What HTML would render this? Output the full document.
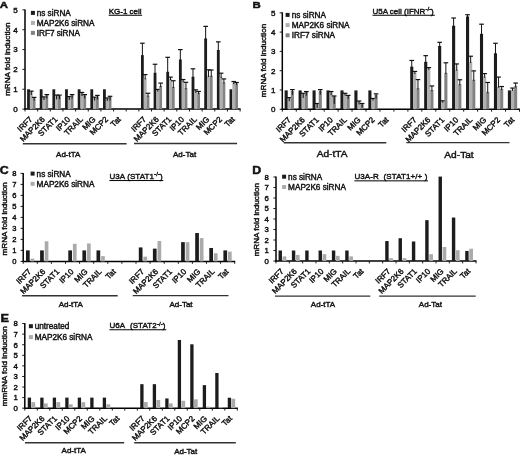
<!DOCTYPE html>
<html><head><meta charset="utf-8"><style>
html,body{margin:0;padding:0;background:#fff;}
body{width:520px;height:455px;overflow:hidden;}
svg{display:block;font-family:"Liberation Sans", sans-serif;fill:#111;filter:grayscale(1) blur(0.3px);}
text{stroke:#111;stroke-width:0.42px;paint-order:stroke;}
</style></head><body>
<svg width="520" height="455" viewBox="0 0 520 455">
<rect x="0" y="0" width="520" height="455" fill="#fff"/>
<g fill="#111">
<line x1="25" y1="9.4" x2="25" y2="109.8" stroke="#000" stroke-width="1.5"/>
<line x1="22.4" y1="109.1" x2="25" y2="109.1" stroke="#1a1a1a" stroke-width="1"/>
<text x="17.7" y="112" font-size="8" text-anchor="end" font-weight="normal" >0</text>
<line x1="22.4" y1="89.26" x2="25" y2="89.26" stroke="#1a1a1a" stroke-width="1"/>
<text x="17.7" y="92.16" font-size="8" text-anchor="end" font-weight="normal" >1</text>
<line x1="22.4" y1="69.42" x2="25" y2="69.42" stroke="#1a1a1a" stroke-width="1"/>
<text x="17.7" y="72.32" font-size="8" text-anchor="end" font-weight="normal" >2</text>
<line x1="22.4" y1="49.58" x2="25" y2="49.58" stroke="#1a1a1a" stroke-width="1"/>
<text x="17.7" y="52.48" font-size="8" text-anchor="end" font-weight="normal" >3</text>
<line x1="22.4" y1="29.74" x2="25" y2="29.74" stroke="#1a1a1a" stroke-width="1"/>
<text x="17.7" y="32.64" font-size="8" text-anchor="end" font-weight="normal" >4</text>
<line x1="22.4" y1="9.9" x2="25" y2="9.9" stroke="#1a1a1a" stroke-width="1"/>
<text x="17.7" y="12.8" font-size="8" text-anchor="end" font-weight="normal" >5</text>
<line x1="24.3" y1="109.1" x2="240.6" y2="109.1" stroke="#000" stroke-width="1.5"/>
<line x1="25" y1="109.1" x2="25" y2="111.5" stroke="#1a1a1a" stroke-width="1"/>
<line x1="37.65" y1="109.1" x2="37.65" y2="111.5" stroke="#1a1a1a" stroke-width="1"/>
<line x1="50.31" y1="109.1" x2="50.31" y2="111.5" stroke="#1a1a1a" stroke-width="1"/>
<line x1="62.96" y1="109.1" x2="62.96" y2="111.5" stroke="#1a1a1a" stroke-width="1"/>
<line x1="75.61" y1="109.1" x2="75.61" y2="111.5" stroke="#1a1a1a" stroke-width="1"/>
<line x1="88.26" y1="109.1" x2="88.26" y2="111.5" stroke="#1a1a1a" stroke-width="1"/>
<line x1="100.92" y1="109.1" x2="100.92" y2="111.5" stroke="#1a1a1a" stroke-width="1"/>
<line x1="113.57" y1="109.1" x2="113.57" y2="111.5" stroke="#1a1a1a" stroke-width="1"/>
<line x1="126.22" y1="109.1" x2="126.22" y2="111.5" stroke="#1a1a1a" stroke-width="1"/>
<line x1="138.88" y1="109.1" x2="138.88" y2="111.5" stroke="#1a1a1a" stroke-width="1"/>
<line x1="151.53" y1="109.1" x2="151.53" y2="111.5" stroke="#1a1a1a" stroke-width="1"/>
<line x1="164.18" y1="109.1" x2="164.18" y2="111.5" stroke="#1a1a1a" stroke-width="1"/>
<line x1="176.84" y1="109.1" x2="176.84" y2="111.5" stroke="#1a1a1a" stroke-width="1"/>
<line x1="189.49" y1="109.1" x2="189.49" y2="111.5" stroke="#1a1a1a" stroke-width="1"/>
<line x1="202.14" y1="109.1" x2="202.14" y2="111.5" stroke="#1a1a1a" stroke-width="1"/>
<line x1="214.79" y1="109.1" x2="214.79" y2="111.5" stroke="#1a1a1a" stroke-width="1"/>
<line x1="227.45" y1="109.1" x2="227.45" y2="111.5" stroke="#1a1a1a" stroke-width="1"/>
<line x1="240.1" y1="109.1" x2="240.1" y2="111.5" stroke="#1a1a1a" stroke-width="1"/>
<rect x="27.1" y="89.26" width="2.81" height="19.84" fill="#1c1c1c"/>
<rect x="29.91" y="91.64" width="2.81" height="17.46" fill="#b0b0b0"/>
<line x1="31.32" y1="91.14" x2="31.32" y2="95.01" stroke="#111" stroke-width="1.0"/>
<line x1="29.02" y1="91.14" x2="33.62" y2="91.14" stroke="#111" stroke-width="1.2"/>
<rect x="32.72" y="98.39" width="2.81" height="10.71" fill="#828282"/>
<line x1="34.12" y1="97.39" x2="34.12" y2="100.57" stroke="#111" stroke-width="1.0"/>
<line x1="31.82" y1="97.39" x2="36.42" y2="97.39" stroke="#111" stroke-width="1.2"/>
<rect x="39.75" y="89.26" width="2.81" height="19.84" fill="#1c1c1c"/>
<rect x="42.56" y="97.39" width="2.81" height="11.71" fill="#b0b0b0"/>
<line x1="43.97" y1="96.9" x2="43.97" y2="99.97" stroke="#111" stroke-width="1.0"/>
<line x1="41.67" y1="96.9" x2="46.27" y2="96.9" stroke="#111" stroke-width="1.2"/>
<rect x="45.37" y="95.41" width="2.81" height="13.69" fill="#828282"/>
<line x1="46.78" y1="94.62" x2="46.78" y2="98.39" stroke="#111" stroke-width="1.0"/>
<line x1="44.48" y1="94.62" x2="49.08" y2="94.62" stroke="#111" stroke-width="1.2"/>
<rect x="52.41" y="89.26" width="2.81" height="19.84" fill="#1c1c1c"/>
<rect x="55.22" y="96.01" width="2.81" height="13.09" fill="#b0b0b0"/>
<line x1="56.62" y1="95.11" x2="56.62" y2="99.38" stroke="#111" stroke-width="1.0"/>
<line x1="54.32" y1="95.11" x2="58.92" y2="95.11" stroke="#111" stroke-width="1.2"/>
<rect x="58.03" y="96.01" width="2.81" height="13.09" fill="#828282"/>
<line x1="59.43" y1="95.11" x2="59.43" y2="99.18" stroke="#111" stroke-width="1.0"/>
<line x1="57.13" y1="95.11" x2="61.73" y2="95.11" stroke="#111" stroke-width="1.2"/>
<rect x="65.06" y="89.26" width="2.81" height="19.84" fill="#1c1c1c"/>
<rect x="67.87" y="97.39" width="2.81" height="11.71" fill="#b0b0b0"/>
<line x1="69.27" y1="96.6" x2="69.27" y2="99.97" stroke="#111" stroke-width="1.0"/>
<line x1="66.97" y1="96.6" x2="71.57" y2="96.6" stroke="#111" stroke-width="1.2"/>
<rect x="70.68" y="95.41" width="2.81" height="13.69" fill="#828282"/>
<line x1="72.08" y1="94.62" x2="72.08" y2="98.39" stroke="#111" stroke-width="1.0"/>
<line x1="69.78" y1="94.62" x2="74.38" y2="94.62" stroke="#111" stroke-width="1.2"/>
<rect x="77.71" y="89.26" width="2.81" height="19.84" fill="#1c1c1c"/>
<rect x="80.52" y="93.03" width="2.81" height="16.07" fill="#b0b0b0"/>
<line x1="81.93" y1="92.43" x2="81.93" y2="96.01" stroke="#111" stroke-width="1.0"/>
<line x1="79.63" y1="92.43" x2="84.23" y2="92.43" stroke="#111" stroke-width="1.2"/>
<rect x="83.33" y="95.41" width="2.81" height="13.69" fill="#828282"/>
<line x1="84.74" y1="94.62" x2="84.74" y2="98.39" stroke="#111" stroke-width="1.0"/>
<line x1="82.44" y1="94.62" x2="87.04" y2="94.62" stroke="#111" stroke-width="1.2"/>
<rect x="90.36" y="89.26" width="2.81" height="19.84" fill="#1c1c1c"/>
<rect x="93.17" y="97.79" width="2.81" height="11.31" fill="#b0b0b0"/>
<line x1="94.58" y1="97.2" x2="94.58" y2="100.57" stroke="#111" stroke-width="1.0"/>
<line x1="92.28" y1="97.2" x2="96.88" y2="97.2" stroke="#111" stroke-width="1.2"/>
<rect x="95.98" y="96.4" width="2.81" height="12.7" fill="#828282"/>
<line x1="97.39" y1="95.41" x2="97.39" y2="99.38" stroke="#111" stroke-width="1.0"/>
<line x1="95.09" y1="95.41" x2="99.69" y2="95.41" stroke="#111" stroke-width="1.2"/>
<rect x="103.02" y="89.26" width="2.81" height="19.84" fill="#1c1c1c"/>
<rect x="105.83" y="98.58" width="2.81" height="10.52" fill="#b0b0b0"/>
<line x1="107.23" y1="97.99" x2="107.23" y2="100.97" stroke="#111" stroke-width="1.0"/>
<line x1="104.93" y1="97.99" x2="109.53" y2="97.99" stroke="#111" stroke-width="1.2"/>
<rect x="108.64" y="97" width="2.81" height="12.1" fill="#828282"/>
<line x1="110.04" y1="96.3" x2="110.04" y2="100.57" stroke="#111" stroke-width="1.0"/>
<line x1="107.74" y1="96.3" x2="112.34" y2="96.3" stroke="#111" stroke-width="1.2"/>
<rect x="140.98" y="55.14" width="2.81" height="53.96" fill="#1c1c1c"/>
<line x1="142.38" y1="43.23" x2="142.38" y2="56.34" stroke="#111" stroke-width="1.0"/>
<line x1="140.08" y1="43.23" x2="144.68" y2="43.23" stroke="#111" stroke-width="1.2"/>
<rect x="143.79" y="78.15" width="2.81" height="30.95" fill="#b0b0b0"/>
<line x1="145.19" y1="74.58" x2="145.19" y2="79.35" stroke="#111" stroke-width="1.0"/>
<line x1="142.89" y1="74.58" x2="147.49" y2="74.58" stroke="#111" stroke-width="1.2"/>
<rect x="146.6" y="95.61" width="2.81" height="13.49" fill="#828282"/>
<line x1="148" y1="93.23" x2="148" y2="96.81" stroke="#111" stroke-width="1.0"/>
<line x1="145.7" y1="93.23" x2="150.3" y2="93.23" stroke="#111" stroke-width="1.2"/>
<rect x="153.63" y="72.79" width="2.81" height="36.31" fill="#1c1c1c"/>
<line x1="155.03" y1="64.26" x2="155.03" y2="73.99" stroke="#111" stroke-width="1.0"/>
<line x1="152.73" y1="64.26" x2="157.33" y2="64.26" stroke="#111" stroke-width="1.2"/>
<rect x="156.44" y="90.45" width="2.81" height="18.65" fill="#b0b0b0"/>
<line x1="157.84" y1="89.46" x2="157.84" y2="91.65" stroke="#111" stroke-width="1.0"/>
<line x1="155.54" y1="89.46" x2="160.14" y2="89.46" stroke="#111" stroke-width="1.2"/>
<rect x="159.25" y="85.89" width="2.81" height="23.21" fill="#828282"/>
<line x1="160.65" y1="83.11" x2="160.65" y2="87.09" stroke="#111" stroke-width="1.0"/>
<line x1="158.35" y1="83.11" x2="162.95" y2="83.11" stroke="#111" stroke-width="1.2"/>
<rect x="166.28" y="71.8" width="2.81" height="37.3" fill="#1c1c1c"/>
<line x1="167.69" y1="57.32" x2="167.69" y2="73" stroke="#111" stroke-width="1.0"/>
<line x1="165.39" y1="57.32" x2="169.99" y2="57.32" stroke="#111" stroke-width="1.2"/>
<rect x="169.09" y="78.94" width="2.81" height="30.16" fill="#b0b0b0"/>
<line x1="170.5" y1="77.16" x2="170.5" y2="80.14" stroke="#111" stroke-width="1.0"/>
<line x1="168.2" y1="77.16" x2="172.8" y2="77.16" stroke="#111" stroke-width="1.2"/>
<rect x="171.9" y="86.88" width="2.81" height="22.22" fill="#828282"/>
<line x1="173.31" y1="80.73" x2="173.31" y2="88.08" stroke="#111" stroke-width="1.0"/>
<line x1="171.01" y1="80.73" x2="175.61" y2="80.73" stroke="#111" stroke-width="1.2"/>
<rect x="178.94" y="59.5" width="2.81" height="49.6" fill="#1c1c1c"/>
<line x1="180.34" y1="49.58" x2="180.34" y2="60.7" stroke="#111" stroke-width="1.0"/>
<line x1="178.04" y1="49.58" x2="182.64" y2="49.58" stroke="#111" stroke-width="1.2"/>
<rect x="181.75" y="80.73" width="2.81" height="28.37" fill="#b0b0b0"/>
<line x1="183.15" y1="79.54" x2="183.15" y2="81.93" stroke="#111" stroke-width="1.0"/>
<line x1="180.85" y1="79.54" x2="185.45" y2="79.54" stroke="#111" stroke-width="1.2"/>
<rect x="184.56" y="88.07" width="2.81" height="21.03" fill="#828282"/>
<line x1="185.96" y1="82.32" x2="185.96" y2="89.27" stroke="#111" stroke-width="1.0"/>
<line x1="183.66" y1="82.32" x2="188.26" y2="82.32" stroke="#111" stroke-width="1.2"/>
<rect x="191.59" y="76.76" width="2.81" height="32.34" fill="#1c1c1c"/>
<line x1="192.99" y1="68.82" x2="192.99" y2="77.96" stroke="#111" stroke-width="1.0"/>
<line x1="190.69" y1="68.82" x2="195.29" y2="68.82" stroke="#111" stroke-width="1.2"/>
<rect x="194.4" y="91.64" width="2.81" height="17.46" fill="#b0b0b0"/>
<line x1="195.8" y1="89.86" x2="195.8" y2="92.84" stroke="#111" stroke-width="1.0"/>
<line x1="193.5" y1="89.86" x2="198.1" y2="89.86" stroke="#111" stroke-width="1.2"/>
<rect x="197.21" y="92.83" width="2.81" height="16.27" fill="#828282"/>
<line x1="198.61" y1="91.44" x2="198.61" y2="94.03" stroke="#111" stroke-width="1.0"/>
<line x1="196.31" y1="91.44" x2="200.91" y2="91.44" stroke="#111" stroke-width="1.2"/>
<rect x="204.24" y="38.47" width="2.81" height="70.63" fill="#1c1c1c"/>
<line x1="205.65" y1="26.37" x2="205.65" y2="39.67" stroke="#111" stroke-width="1.0"/>
<line x1="203.35" y1="26.37" x2="207.95" y2="26.37" stroke="#111" stroke-width="1.2"/>
<rect x="207.05" y="75.77" width="2.81" height="33.33" fill="#b0b0b0"/>
<line x1="208.46" y1="69.82" x2="208.46" y2="76.97" stroke="#111" stroke-width="1.0"/>
<line x1="206.16" y1="69.82" x2="210.76" y2="69.82" stroke="#111" stroke-width="1.2"/>
<rect x="209.86" y="75.77" width="2.81" height="33.33" fill="#828282"/>
<line x1="211.27" y1="70.02" x2="211.27" y2="76.97" stroke="#111" stroke-width="1.0"/>
<line x1="208.97" y1="70.02" x2="213.57" y2="70.02" stroke="#111" stroke-width="1.2"/>
<rect x="216.89" y="49.98" width="2.81" height="59.12" fill="#1c1c1c"/>
<line x1="218.3" y1="41.84" x2="218.3" y2="51.18" stroke="#111" stroke-width="1.0"/>
<line x1="216" y1="41.84" x2="220.6" y2="41.84" stroke="#111" stroke-width="1.2"/>
<rect x="219.7" y="76.76" width="2.81" height="32.34" fill="#b0b0b0"/>
<line x1="221.11" y1="73.19" x2="221.11" y2="77.96" stroke="#111" stroke-width="1.0"/>
<line x1="218.81" y1="73.19" x2="223.41" y2="73.19" stroke="#111" stroke-width="1.2"/>
<rect x="222.51" y="82.32" width="2.81" height="26.78" fill="#828282"/>
<line x1="223.92" y1="78.94" x2="223.92" y2="83.52" stroke="#111" stroke-width="1.0"/>
<line x1="221.62" y1="78.94" x2="226.22" y2="78.94" stroke="#111" stroke-width="1.2"/>
<rect x="229.55" y="89.26" width="2.81" height="19.84" fill="#1c1c1c"/>
<rect x="232.36" y="82.91" width="2.81" height="26.19" fill="#b0b0b0"/>
<line x1="233.76" y1="81.52" x2="233.76" y2="84.11" stroke="#111" stroke-width="1.0"/>
<line x1="231.46" y1="81.52" x2="236.06" y2="81.52" stroke="#111" stroke-width="1.2"/>
<rect x="235.17" y="83.51" width="2.81" height="25.59" fill="#828282"/>
<line x1="236.57" y1="82.51" x2="236.57" y2="84.71" stroke="#111" stroke-width="1.0"/>
<line x1="234.27" y1="82.51" x2="238.87" y2="82.51" stroke="#111" stroke-width="1.2"/>
<text x="32.83" y="119.9" font-size="8" text-anchor="end" transform="rotate(-45 32.83 119.9)">IRF7</text>
<text x="45.48" y="119.9" font-size="8" text-anchor="end" transform="rotate(-45 45.48 119.9)">MAP2K6</text>
<text x="58.13" y="119.9" font-size="8" text-anchor="end" transform="rotate(-45 58.13 119.9)">STAT1</text>
<text x="70.79" y="119.9" font-size="8" text-anchor="end" transform="rotate(-45 70.79 119.9)">IP10</text>
<text x="83.44" y="119.9" font-size="8" text-anchor="end" transform="rotate(-45 83.44 119.9)">TRAIL</text>
<text x="96.09" y="119.9" font-size="8" text-anchor="end" transform="rotate(-45 96.09 119.9)">MIG</text>
<text x="108.74" y="119.9" font-size="8" text-anchor="end" transform="rotate(-45 108.74 119.9)">MCP2</text>
<text x="121.4" y="119.9" font-size="8" text-anchor="end" transform="rotate(-45 121.4 119.9)">Tat</text>
<text x="146.7" y="119.9" font-size="8" text-anchor="end" transform="rotate(-45 146.7 119.9)">IRF7</text>
<text x="159.36" y="119.9" font-size="8" text-anchor="end" transform="rotate(-45 159.36 119.9)">MAP2K6</text>
<text x="172.01" y="119.9" font-size="8" text-anchor="end" transform="rotate(-45 172.01 119.9)">STAT1</text>
<text x="184.66" y="119.9" font-size="8" text-anchor="end" transform="rotate(-45 184.66 119.9)">IP10</text>
<text x="197.31" y="119.9" font-size="8" text-anchor="end" transform="rotate(-45 197.31 119.9)">TRAIL</text>
<text x="209.97" y="119.9" font-size="8" text-anchor="end" transform="rotate(-45 209.97 119.9)">MIG</text>
<text x="222.62" y="119.9" font-size="8" text-anchor="end" transform="rotate(-45 222.62 119.9)">MCP2</text>
<text x="235.27" y="119.9" font-size="8" text-anchor="end" transform="rotate(-45 235.27 119.9)">Tat</text>
<line x1="22.8" y1="143.7" x2="126.6" y2="143.7" stroke="#333" stroke-width="1.4"/>
<text x="0" y="0" font-size="8" text-anchor="middle" transform="translate(68.2 157.2) scale(1.0 1)">Ad-tTA</text>
<line x1="134" y1="143.5" x2="237.1" y2="143.5" stroke="#333" stroke-width="1.4"/>
<text x="0" y="0" font-size="8" text-anchor="middle" transform="translate(184.6 156.9) scale(1.0 1)">Ad-Tat</text>
<rect x="30.9" y="10.9" width="4" height="4" fill="#1c1c1c"/>
<text x="36.7" y="15.8" font-size="8.2" text-anchor="start" font-weight="normal" >ns siRNA</text>
<rect x="30.9" y="20.9" width="4" height="4" fill="#b0b0b0"/>
<text x="36.7" y="25.8" font-size="8.2" text-anchor="start" font-weight="normal" >MAP2K6 siRNA</text>
<rect x="30.9" y="30.9" width="4" height="4" fill="#828282"/>
<text x="36.7" y="35.8" font-size="8.2" text-anchor="start" font-weight="normal" >IRF7 siRNA</text>
<text x="108.7" y="13.8" font-size="8" letter-spacing="0">KG-1 cell</text>
<line x1="108.7" y1="15.25" x2="142.1" y2="15.25" stroke="#000" stroke-width="1.0"/>
<text x="9.7" y="59.2" font-size="8.1" text-anchor="middle" transform="rotate(-90 9.7 59.2)">mRNA fold induction</text>
<text x="0" y="0" font-size="9.7" font-weight="bold" transform="translate(-0.3 7.9) scale(1.18 1)" style="stroke-width:0.45px">A</text>
<line x1="282.3" y1="12.3" x2="282.3" y2="110" stroke="#000" stroke-width="1.5"/>
<line x1="279.7" y1="109.3" x2="282.3" y2="109.3" stroke="#1a1a1a" stroke-width="1"/>
<text x="275.5" y="112.2" font-size="8" text-anchor="end" font-weight="normal" >0</text>
<line x1="279.7" y1="90" x2="282.3" y2="90" stroke="#1a1a1a" stroke-width="1"/>
<text x="275.5" y="92.9" font-size="8" text-anchor="end" font-weight="normal" >1</text>
<line x1="279.7" y1="70.7" x2="282.3" y2="70.7" stroke="#1a1a1a" stroke-width="1"/>
<text x="275.5" y="73.6" font-size="8" text-anchor="end" font-weight="normal" >2</text>
<line x1="279.7" y1="51.4" x2="282.3" y2="51.4" stroke="#1a1a1a" stroke-width="1"/>
<text x="275.5" y="54.3" font-size="8" text-anchor="end" font-weight="normal" >3</text>
<line x1="279.7" y1="32.1" x2="282.3" y2="32.1" stroke="#1a1a1a" stroke-width="1"/>
<text x="275.5" y="35" font-size="8" text-anchor="end" font-weight="normal" >4</text>
<line x1="279.7" y1="12.8" x2="282.3" y2="12.8" stroke="#1a1a1a" stroke-width="1"/>
<text x="275.5" y="15.7" font-size="8" text-anchor="end" font-weight="normal" >5</text>
<line x1="281.6" y1="109.3" x2="520" y2="109.3" stroke="#000" stroke-width="1.5"/>
<line x1="282.3" y1="109.3" x2="282.3" y2="111.7" stroke="#1a1a1a" stroke-width="1"/>
<line x1="296.25" y1="109.3" x2="296.25" y2="111.7" stroke="#1a1a1a" stroke-width="1"/>
<line x1="310.21" y1="109.3" x2="310.21" y2="111.7" stroke="#1a1a1a" stroke-width="1"/>
<line x1="324.16" y1="109.3" x2="324.16" y2="111.7" stroke="#1a1a1a" stroke-width="1"/>
<line x1="338.11" y1="109.3" x2="338.11" y2="111.7" stroke="#1a1a1a" stroke-width="1"/>
<line x1="352.06" y1="109.3" x2="352.06" y2="111.7" stroke="#1a1a1a" stroke-width="1"/>
<line x1="366.02" y1="109.3" x2="366.02" y2="111.7" stroke="#1a1a1a" stroke-width="1"/>
<line x1="379.97" y1="109.3" x2="379.97" y2="111.7" stroke="#1a1a1a" stroke-width="1"/>
<line x1="393.92" y1="109.3" x2="393.92" y2="111.7" stroke="#1a1a1a" stroke-width="1"/>
<line x1="407.88" y1="109.3" x2="407.88" y2="111.7" stroke="#1a1a1a" stroke-width="1"/>
<line x1="421.83" y1="109.3" x2="421.83" y2="111.7" stroke="#1a1a1a" stroke-width="1"/>
<line x1="435.78" y1="109.3" x2="435.78" y2="111.7" stroke="#1a1a1a" stroke-width="1"/>
<line x1="449.74" y1="109.3" x2="449.74" y2="111.7" stroke="#1a1a1a" stroke-width="1"/>
<line x1="463.69" y1="109.3" x2="463.69" y2="111.7" stroke="#1a1a1a" stroke-width="1"/>
<line x1="477.64" y1="109.3" x2="477.64" y2="111.7" stroke="#1a1a1a" stroke-width="1"/>
<line x1="491.59" y1="109.3" x2="491.59" y2="111.7" stroke="#1a1a1a" stroke-width="1"/>
<line x1="505.55" y1="109.3" x2="505.55" y2="111.7" stroke="#1a1a1a" stroke-width="1"/>
<line x1="519.5" y1="109.3" x2="519.5" y2="111.7" stroke="#1a1a1a" stroke-width="1"/>
<rect x="284.63" y="90.39" width="3.1" height="18.91" fill="#1c1c1c"/>
<rect x="287.73" y="98.11" width="3.1" height="11.19" fill="#b0b0b0"/>
<line x1="289.28" y1="97.58" x2="289.28" y2="101.19" stroke="#111" stroke-width="1.0"/>
<line x1="286.98" y1="97.58" x2="291.58" y2="97.58" stroke="#111" stroke-width="1.2"/>
<rect x="290.83" y="90.97" width="3.1" height="18.34" fill="#828282"/>
<line x1="292.38" y1="89.61" x2="292.38" y2="94.82" stroke="#111" stroke-width="1.0"/>
<line x1="290.08" y1="89.61" x2="294.68" y2="89.61" stroke="#111" stroke-width="1.2"/>
<rect x="298.58" y="90.39" width="3.1" height="18.91" fill="#1c1c1c"/>
<rect x="301.68" y="93.86" width="3.1" height="15.44" fill="#b0b0b0"/>
<line x1="303.23" y1="93.28" x2="303.23" y2="97.91" stroke="#111" stroke-width="1.0"/>
<line x1="300.93" y1="93.28" x2="305.53" y2="93.28" stroke="#111" stroke-width="1.2"/>
<rect x="304.78" y="91.93" width="3.1" height="17.37" fill="#828282"/>
<line x1="306.33" y1="91.54" x2="306.33" y2="95.6" stroke="#111" stroke-width="1.0"/>
<line x1="304.03" y1="91.54" x2="308.63" y2="91.54" stroke="#111" stroke-width="1.2"/>
<rect x="312.54" y="90.39" width="3.1" height="18.91" fill="#1c1c1c"/>
<rect x="315.64" y="104.09" width="3.1" height="5.21" fill="#b0b0b0"/>
<line x1="317.19" y1="103.51" x2="317.19" y2="108.14" stroke="#111" stroke-width="1.0"/>
<line x1="314.89" y1="103.51" x2="319.49" y2="103.51" stroke="#111" stroke-width="1.2"/>
<rect x="318.74" y="90.97" width="3.1" height="18.34" fill="#828282"/>
<line x1="320.29" y1="89.61" x2="320.29" y2="94.63" stroke="#111" stroke-width="1.0"/>
<line x1="317.99" y1="89.61" x2="322.59" y2="89.61" stroke="#111" stroke-width="1.2"/>
<rect x="326.49" y="90.39" width="3.1" height="18.91" fill="#1c1c1c"/>
<rect x="329.59" y="92.32" width="3.1" height="16.98" fill="#b0b0b0"/>
<line x1="331.14" y1="91.54" x2="331.14" y2="95.21" stroke="#111" stroke-width="1.0"/>
<line x1="328.84" y1="91.54" x2="333.44" y2="91.54" stroke="#111" stroke-width="1.2"/>
<rect x="332.69" y="96.37" width="3.1" height="12.93" fill="#828282"/>
<line x1="334.24" y1="95.98" x2="334.24" y2="103.9" stroke="#111" stroke-width="1.0"/>
<line x1="331.94" y1="95.98" x2="336.54" y2="95.98" stroke="#111" stroke-width="1.2"/>
<rect x="340.44" y="90.39" width="3.1" height="18.91" fill="#1c1c1c"/>
<rect x="343.54" y="93.86" width="3.1" height="15.44" fill="#b0b0b0"/>
<line x1="345.09" y1="93.28" x2="345.09" y2="95.6" stroke="#111" stroke-width="1.0"/>
<line x1="342.79" y1="93.28" x2="347.39" y2="93.28" stroke="#111" stroke-width="1.2"/>
<rect x="346.64" y="96.18" width="3.1" height="13.12" fill="#828282"/>
<line x1="348.19" y1="95.4" x2="348.19" y2="98.69" stroke="#111" stroke-width="1.0"/>
<line x1="345.89" y1="95.4" x2="350.49" y2="95.4" stroke="#111" stroke-width="1.2"/>
<rect x="354.39" y="90.39" width="3.1" height="18.91" fill="#1c1c1c"/>
<rect x="357.49" y="101.58" width="3.1" height="7.72" fill="#b0b0b0"/>
<line x1="359.04" y1="101" x2="359.04" y2="104.47" stroke="#111" stroke-width="1.0"/>
<line x1="356.74" y1="101" x2="361.34" y2="101" stroke="#111" stroke-width="1.2"/>
<rect x="360.59" y="104.28" width="3.1" height="5.02" fill="#828282"/>
<line x1="362.14" y1="103.51" x2="362.14" y2="107.37" stroke="#111" stroke-width="1.0"/>
<line x1="359.84" y1="103.51" x2="364.44" y2="103.51" stroke="#111" stroke-width="1.2"/>
<rect x="368.35" y="90.39" width="3.1" height="18.91" fill="#1c1c1c"/>
<rect x="371.45" y="99.26" width="3.1" height="10.04" fill="#b0b0b0"/>
<line x1="373" y1="98.49" x2="373" y2="100.61" stroke="#111" stroke-width="1.0"/>
<line x1="370.7" y1="98.49" x2="375.3" y2="98.49" stroke="#111" stroke-width="1.2"/>
<rect x="374.55" y="95.02" width="3.1" height="14.28" fill="#828282"/>
<line x1="376.1" y1="93.86" x2="376.1" y2="98.69" stroke="#111" stroke-width="1.0"/>
<line x1="373.8" y1="93.86" x2="378.4" y2="93.86" stroke="#111" stroke-width="1.2"/>
<rect x="410.21" y="66.65" width="3.1" height="42.65" fill="#1c1c1c"/>
<line x1="411.76" y1="60.47" x2="411.76" y2="67.85" stroke="#111" stroke-width="1.0"/>
<line x1="409.46" y1="60.47" x2="414.06" y2="60.47" stroke="#111" stroke-width="1.2"/>
<rect x="413.31" y="72.82" width="3.1" height="36.48" fill="#b0b0b0"/>
<line x1="414.86" y1="71.47" x2="414.86" y2="74.02" stroke="#111" stroke-width="1.0"/>
<line x1="412.56" y1="71.47" x2="417.16" y2="71.47" stroke="#111" stroke-width="1.2"/>
<rect x="416.41" y="88.26" width="3.1" height="21.04" fill="#828282"/>
<line x1="417.96" y1="79.58" x2="417.96" y2="89.46" stroke="#111" stroke-width="1.0"/>
<line x1="415.66" y1="79.58" x2="420.26" y2="79.58" stroke="#111" stroke-width="1.2"/>
<rect x="424.16" y="61.82" width="3.1" height="47.48" fill="#1c1c1c"/>
<line x1="425.71" y1="55.65" x2="425.71" y2="63.02" stroke="#111" stroke-width="1.0"/>
<line x1="423.41" y1="55.65" x2="428.01" y2="55.65" stroke="#111" stroke-width="1.2"/>
<rect x="427.26" y="68.58" width="3.1" height="40.72" fill="#b0b0b0"/>
<line x1="428.81" y1="67.61" x2="428.81" y2="69.78" stroke="#111" stroke-width="1.0"/>
<line x1="426.51" y1="67.61" x2="431.11" y2="67.61" stroke="#111" stroke-width="1.2"/>
<rect x="430.36" y="90" width="3.1" height="19.3" fill="#828282"/>
<line x1="431.91" y1="85.95" x2="431.91" y2="91.2" stroke="#111" stroke-width="1.0"/>
<line x1="429.61" y1="85.95" x2="434.21" y2="85.95" stroke="#111" stroke-width="1.2"/>
<rect x="438.11" y="46" width="3.1" height="63.3" fill="#1c1c1c"/>
<line x1="439.66" y1="42.33" x2="439.66" y2="47.2" stroke="#111" stroke-width="1.0"/>
<line x1="437.36" y1="42.33" x2="441.96" y2="42.33" stroke="#111" stroke-width="1.2"/>
<rect x="441.21" y="101.39" width="3.1" height="7.91" fill="#b0b0b0"/>
<line x1="442.76" y1="100.81" x2="442.76" y2="102.59" stroke="#111" stroke-width="1.0"/>
<line x1="440.46" y1="100.81" x2="445.06" y2="100.81" stroke="#111" stroke-width="1.2"/>
<rect x="444.31" y="72.82" width="3.1" height="36.48" fill="#828282"/>
<line x1="445.86" y1="62.79" x2="445.86" y2="74.02" stroke="#111" stroke-width="1.0"/>
<line x1="443.56" y1="62.79" x2="448.16" y2="62.79" stroke="#111" stroke-width="1.2"/>
<rect x="452.07" y="25.73" width="3.1" height="83.57" fill="#1c1c1c"/>
<line x1="453.62" y1="18.01" x2="453.62" y2="26.93" stroke="#111" stroke-width="1.0"/>
<line x1="451.32" y1="18.01" x2="455.92" y2="18.01" stroke="#111" stroke-width="1.2"/>
<rect x="455.17" y="69.54" width="3.1" height="39.76" fill="#b0b0b0"/>
<line x1="456.72" y1="63.94" x2="456.72" y2="70.74" stroke="#111" stroke-width="1.0"/>
<line x1="454.42" y1="63.94" x2="459.02" y2="63.94" stroke="#111" stroke-width="1.2"/>
<rect x="458.27" y="84.21" width="3.1" height="25.09" fill="#828282"/>
<line x1="459.82" y1="79.77" x2="459.82" y2="85.41" stroke="#111" stroke-width="1.0"/>
<line x1="457.52" y1="79.77" x2="462.12" y2="79.77" stroke="#111" stroke-width="1.2"/>
<rect x="466.02" y="16.47" width="3.1" height="92.83" fill="#1c1c1c"/>
<line x1="467.57" y1="14.73" x2="467.57" y2="17.67" stroke="#111" stroke-width="1.0"/>
<line x1="465.27" y1="14.73" x2="469.87" y2="14.73" stroke="#111" stroke-width="1.2"/>
<rect x="469.12" y="61.82" width="3.1" height="47.48" fill="#b0b0b0"/>
<line x1="470.67" y1="56.22" x2="470.67" y2="63.02" stroke="#111" stroke-width="1.0"/>
<line x1="468.37" y1="56.22" x2="472.97" y2="56.22" stroke="#111" stroke-width="1.2"/>
<rect x="472.22" y="79.77" width="3.1" height="29.53" fill="#828282"/>
<line x1="473.77" y1="70.89" x2="473.77" y2="80.97" stroke="#111" stroke-width="1.0"/>
<line x1="471.47" y1="70.89" x2="476.07" y2="70.89" stroke="#111" stroke-width="1.2"/>
<rect x="479.97" y="33.84" width="3.1" height="75.46" fill="#1c1c1c"/>
<line x1="481.52" y1="24.19" x2="481.52" y2="35.04" stroke="#111" stroke-width="1.0"/>
<line x1="479.22" y1="24.19" x2="483.82" y2="24.19" stroke="#111" stroke-width="1.2"/>
<rect x="483.07" y="76.49" width="3.1" height="32.81" fill="#b0b0b0"/>
<line x1="484.62" y1="73.59" x2="484.62" y2="77.69" stroke="#111" stroke-width="1.0"/>
<line x1="482.32" y1="73.59" x2="486.92" y2="73.59" stroke="#111" stroke-width="1.2"/>
<rect x="486.17" y="91.93" width="3.1" height="17.37" fill="#828282"/>
<line x1="487.72" y1="82.47" x2="487.72" y2="93.13" stroke="#111" stroke-width="1.0"/>
<line x1="485.42" y1="82.47" x2="490.02" y2="82.47" stroke="#111" stroke-width="1.2"/>
<rect x="493.92" y="53.33" width="3.1" height="55.97" fill="#1c1c1c"/>
<line x1="495.47" y1="43.29" x2="495.47" y2="54.53" stroke="#111" stroke-width="1.0"/>
<line x1="493.17" y1="43.29" x2="497.77" y2="43.29" stroke="#111" stroke-width="1.2"/>
<rect x="497.02" y="86.53" width="3.1" height="22.77" fill="#b0b0b0"/>
<line x1="498.57" y1="77.07" x2="498.57" y2="87.73" stroke="#111" stroke-width="1.0"/>
<line x1="496.27" y1="77.07" x2="500.87" y2="77.07" stroke="#111" stroke-width="1.2"/>
<rect x="500.12" y="88.84" width="3.1" height="20.46" fill="#828282"/>
<line x1="501.67" y1="86.53" x2="501.67" y2="90.04" stroke="#111" stroke-width="1.0"/>
<line x1="499.37" y1="86.53" x2="503.97" y2="86.53" stroke="#111" stroke-width="1.2"/>
<rect x="507.88" y="90.39" width="3.1" height="18.91" fill="#1c1c1c"/>
<rect x="510.98" y="89.61" width="3.1" height="19.69" fill="#b0b0b0"/>
<line x1="512.53" y1="88.07" x2="512.53" y2="90.81" stroke="#111" stroke-width="1.0"/>
<line x1="510.23" y1="88.07" x2="514.83" y2="88.07" stroke="#111" stroke-width="1.2"/>
<rect x="514.08" y="86.14" width="3.1" height="23.16" fill="#828282"/>
<line x1="515.63" y1="83.05" x2="515.63" y2="87.34" stroke="#111" stroke-width="1.0"/>
<line x1="513.33" y1="83.05" x2="517.93" y2="83.05" stroke="#111" stroke-width="1.2"/>
<text x="291.48" y="120.4" font-size="8" text-anchor="end" transform="rotate(-45 291.48 120.4)">IRF7</text>
<text x="305.43" y="120.4" font-size="8" text-anchor="end" transform="rotate(-45 305.43 120.4)">MAP2K6</text>
<text x="319.38" y="120.4" font-size="8" text-anchor="end" transform="rotate(-45 319.38 120.4)">STAT1</text>
<text x="333.34" y="120.4" font-size="8" text-anchor="end" transform="rotate(-45 333.34 120.4)">IP10</text>
<text x="347.29" y="120.4" font-size="8" text-anchor="end" transform="rotate(-45 347.29 120.4)">TRAIL</text>
<text x="361.24" y="120.4" font-size="8" text-anchor="end" transform="rotate(-45 361.24 120.4)">MIG</text>
<text x="375.19" y="120.4" font-size="8" text-anchor="end" transform="rotate(-45 375.19 120.4)">MCP2</text>
<text x="389.15" y="120.4" font-size="8" text-anchor="end" transform="rotate(-45 389.15 120.4)">Tat</text>
<text x="417.05" y="120.4" font-size="8" text-anchor="end" transform="rotate(-45 417.05 120.4)">IRF7</text>
<text x="431.01" y="120.4" font-size="8" text-anchor="end" transform="rotate(-45 431.01 120.4)">MAP2K6</text>
<text x="444.96" y="120.4" font-size="8" text-anchor="end" transform="rotate(-45 444.96 120.4)">STAT1</text>
<text x="458.91" y="120.4" font-size="8" text-anchor="end" transform="rotate(-45 458.91 120.4)">IP10</text>
<text x="472.86" y="120.4" font-size="8" text-anchor="end" transform="rotate(-45 472.86 120.4)">TRAIL</text>
<text x="486.82" y="120.4" font-size="8" text-anchor="end" transform="rotate(-45 486.82 120.4)">MIG</text>
<text x="500.77" y="120.4" font-size="8" text-anchor="end" transform="rotate(-45 500.77 120.4)">MCP2</text>
<text x="514.72" y="120.4" font-size="8" text-anchor="end" transform="rotate(-45 514.72 120.4)">Tat</text>
<line x1="283.8" y1="142.8" x2="386.3" y2="142.8" stroke="#333" stroke-width="1.4"/>
<text x="0" y="0" font-size="9.4" text-anchor="middle" transform="translate(332.1 157.4) scale(1.08 1)">Ad-tTA</text>
<line x1="406.3" y1="142.6" x2="509.5" y2="142.6" stroke="#333" stroke-width="1.4"/>
<text x="0" y="0" font-size="9.4" text-anchor="middle" transform="translate(459 157.6) scale(1.08 1)">Ad-Tat</text>
<rect x="285.6" y="12.9" width="4" height="4" fill="#1c1c1c"/>
<text x="291.8" y="17.8" font-size="8.2" text-anchor="start" font-weight="normal" >ns siRNA</text>
<rect x="285.6" y="23.1" width="4" height="4" fill="#b0b0b0"/>
<text x="291.8" y="28" font-size="8.2" text-anchor="start" font-weight="normal" >MAP2K6 siRNA</text>
<rect x="285.6" y="33.3" width="4" height="4" fill="#828282"/>
<text x="291.8" y="38.2" font-size="8.2" text-anchor="start" font-weight="normal" >IRF7 siRNA</text>
<text x="372.5" y="13.8" font-size="8" letter-spacing="0">U5A cell (IFNR<tspan font-size="6" dy="-2.8">-/-</tspan><tspan dy="2.8">)</tspan></text>
<line x1="372.5" y1="15.25" x2="434.8" y2="15.25" stroke="#000" stroke-width="1.0"/>
<text x="265.9" y="60.5" font-size="8.1" text-anchor="middle" transform="rotate(-90 265.9 60.5)">mRNA fold induction</text>
<text x="0" y="0" font-size="9.7" font-weight="bold" transform="translate(252.5 8.2) scale(1.18 1)" style="stroke-width:0.45px">B</text>
<line x1="23.2" y1="172.9" x2="23.2" y2="262.1" stroke="#000" stroke-width="1.5"/>
<line x1="20.6" y1="261.4" x2="23.2" y2="261.4" stroke="#1a1a1a" stroke-width="1"/>
<text x="16.6" y="264.1" font-size="7.6" text-anchor="end" font-weight="normal" >0</text>
<line x1="20.6" y1="250.4" x2="23.2" y2="250.4" stroke="#1a1a1a" stroke-width="1"/>
<text x="16.6" y="253.1" font-size="7.6" text-anchor="end" font-weight="normal" >1</text>
<line x1="20.6" y1="239.4" x2="23.2" y2="239.4" stroke="#1a1a1a" stroke-width="1"/>
<text x="16.6" y="242.1" font-size="7.6" text-anchor="end" font-weight="normal" >2</text>
<line x1="20.6" y1="228.4" x2="23.2" y2="228.4" stroke="#1a1a1a" stroke-width="1"/>
<text x="16.6" y="231.1" font-size="7.6" text-anchor="end" font-weight="normal" >3</text>
<line x1="20.6" y1="217.4" x2="23.2" y2="217.4" stroke="#1a1a1a" stroke-width="1"/>
<text x="16.6" y="220.1" font-size="7.6" text-anchor="end" font-weight="normal" >4</text>
<line x1="20.6" y1="206.4" x2="23.2" y2="206.4" stroke="#1a1a1a" stroke-width="1"/>
<text x="16.6" y="209.1" font-size="7.6" text-anchor="end" font-weight="normal" >5</text>
<line x1="20.6" y1="195.4" x2="23.2" y2="195.4" stroke="#1a1a1a" stroke-width="1"/>
<text x="16.6" y="198.1" font-size="7.6" text-anchor="end" font-weight="normal" >6</text>
<line x1="20.6" y1="184.4" x2="23.2" y2="184.4" stroke="#1a1a1a" stroke-width="1"/>
<text x="16.6" y="187.1" font-size="7.6" text-anchor="end" font-weight="normal" >7</text>
<line x1="20.6" y1="173.4" x2="23.2" y2="173.4" stroke="#1a1a1a" stroke-width="1"/>
<text x="16.6" y="176.1" font-size="7.6" text-anchor="end" font-weight="normal" >8</text>
<line x1="22.5" y1="261.4" x2="235.2" y2="261.4" stroke="#000" stroke-width="1.5"/>
<line x1="23.2" y1="261.4" x2="23.2" y2="263.8" stroke="#1a1a1a" stroke-width="1"/>
<line x1="37.3" y1="261.4" x2="37.3" y2="263.8" stroke="#1a1a1a" stroke-width="1"/>
<line x1="51.4" y1="261.4" x2="51.4" y2="263.8" stroke="#1a1a1a" stroke-width="1"/>
<line x1="65.5" y1="261.4" x2="65.5" y2="263.8" stroke="#1a1a1a" stroke-width="1"/>
<line x1="79.6" y1="261.4" x2="79.6" y2="263.8" stroke="#1a1a1a" stroke-width="1"/>
<line x1="93.7" y1="261.4" x2="93.7" y2="263.8" stroke="#1a1a1a" stroke-width="1"/>
<line x1="107.8" y1="261.4" x2="107.8" y2="263.8" stroke="#1a1a1a" stroke-width="1"/>
<line x1="121.9" y1="261.4" x2="121.9" y2="263.8" stroke="#1a1a1a" stroke-width="1"/>
<line x1="136" y1="261.4" x2="136" y2="263.8" stroke="#1a1a1a" stroke-width="1"/>
<line x1="150.1" y1="261.4" x2="150.1" y2="263.8" stroke="#1a1a1a" stroke-width="1"/>
<line x1="164.2" y1="261.4" x2="164.2" y2="263.8" stroke="#1a1a1a" stroke-width="1"/>
<line x1="178.3" y1="261.4" x2="178.3" y2="263.8" stroke="#1a1a1a" stroke-width="1"/>
<line x1="192.4" y1="261.4" x2="192.4" y2="263.8" stroke="#1a1a1a" stroke-width="1"/>
<line x1="206.5" y1="261.4" x2="206.5" y2="263.8" stroke="#1a1a1a" stroke-width="1"/>
<line x1="220.6" y1="261.4" x2="220.6" y2="263.8" stroke="#1a1a1a" stroke-width="1"/>
<line x1="234.7" y1="261.4" x2="234.7" y2="263.8" stroke="#1a1a1a" stroke-width="1"/>
<rect x="26" y="250.4" width="3.7" height="11" fill="#1c1c1c"/>
<rect x="30.6" y="258.65" width="3.7" height="2.75" fill="#aaaaaa"/>
<rect x="40.1" y="250.4" width="3.7" height="11" fill="#1c1c1c"/>
<rect x="44.7" y="241.27" width="3.7" height="20.13" fill="#aaaaaa"/>
<rect x="68.3" y="250.4" width="3.7" height="11" fill="#1c1c1c"/>
<rect x="72.9" y="243.8" width="3.7" height="17.6" fill="#aaaaaa"/>
<rect x="82.4" y="250.4" width="3.7" height="11" fill="#1c1c1c"/>
<rect x="87" y="243.47" width="3.7" height="17.93" fill="#aaaaaa"/>
<rect x="96.5" y="250.4" width="3.7" height="11" fill="#1c1c1c"/>
<rect x="101.1" y="256.12" width="3.7" height="5.28" fill="#aaaaaa"/>
<rect x="138.8" y="247.43" width="3.7" height="13.97" fill="#1c1c1c"/>
<rect x="143.4" y="256.67" width="3.7" height="4.73" fill="#aaaaaa"/>
<rect x="152.9" y="248.64" width="3.7" height="12.76" fill="#1c1c1c"/>
<rect x="157.5" y="241.05" width="3.7" height="20.35" fill="#aaaaaa"/>
<rect x="181.1" y="242.15" width="3.7" height="19.25" fill="#1c1c1c"/>
<rect x="185.7" y="242.15" width="3.7" height="19.25" fill="#aaaaaa"/>
<rect x="195.2" y="233.02" width="3.7" height="28.38" fill="#1c1c1c"/>
<rect x="199.8" y="238.08" width="3.7" height="23.32" fill="#aaaaaa"/>
<rect x="209.3" y="247.98" width="3.7" height="13.42" fill="#1c1c1c"/>
<rect x="213.9" y="253.26" width="3.7" height="8.14" fill="#aaaaaa"/>
<rect x="223.4" y="250.4" width="3.7" height="11" fill="#1c1c1c"/>
<rect x="228" y="251.61" width="3.7" height="9.79" fill="#aaaaaa"/>
<text x="31.75" y="272.2" font-size="8" text-anchor="end" transform="rotate(-45 31.75 272.2)">IRF7</text>
<text x="45.85" y="272.2" font-size="8" text-anchor="end" transform="rotate(-45 45.85 272.2)">MAP2K6</text>
<text x="59.95" y="272.2" font-size="8" text-anchor="end" transform="rotate(-45 59.95 272.2)">STAT1</text>
<text x="74.05" y="272.2" font-size="8" text-anchor="end" transform="rotate(-45 74.05 272.2)">IP10</text>
<text x="88.15" y="272.2" font-size="8" text-anchor="end" transform="rotate(-45 88.15 272.2)">MIG</text>
<text x="102.25" y="272.2" font-size="8" text-anchor="end" transform="rotate(-45 102.25 272.2)">TRAIL</text>
<text x="116.35" y="272.2" font-size="8" text-anchor="end" transform="rotate(-45 116.35 272.2)">Tat</text>
<text x="144.55" y="272.2" font-size="8" text-anchor="end" transform="rotate(-45 144.55 272.2)">IRF7</text>
<text x="158.65" y="272.2" font-size="8" text-anchor="end" transform="rotate(-45 158.65 272.2)">MAP2K6</text>
<text x="172.75" y="272.2" font-size="8" text-anchor="end" transform="rotate(-45 172.75 272.2)">STAT1</text>
<text x="186.85" y="272.2" font-size="8" text-anchor="end" transform="rotate(-45 186.85 272.2)">IP10</text>
<text x="200.95" y="272.2" font-size="8" text-anchor="end" transform="rotate(-45 200.95 272.2)">MIG</text>
<text x="215.05" y="272.2" font-size="8" text-anchor="end" transform="rotate(-45 215.05 272.2)">TRAIL</text>
<text x="229.15" y="272.2" font-size="8" text-anchor="end" transform="rotate(-45 229.15 272.2)">Tat</text>
<line x1="22.1" y1="295.7" x2="117.7" y2="295.7" stroke="#333" stroke-width="1.4"/>
<text x="0" y="0" font-size="8" text-anchor="middle" transform="translate(70.8 307.2) scale(1.0 1)">Ad-tTA</text>
<line x1="132.7" y1="295.6" x2="228.5" y2="295.6" stroke="#333" stroke-width="1.4"/>
<text x="0" y="0" font-size="8" text-anchor="middle" transform="translate(181 307.4) scale(1.0 1)">Ad-Tat</text>
<rect x="30.6" y="171.6" width="4" height="4" fill="#1c1c1c"/>
<text x="36.6" y="176.5" font-size="8.2" text-anchor="start" font-weight="normal" >ns siRNA</text>
<rect x="30.6" y="181.8" width="4" height="4" fill="#aaaaaa"/>
<text x="36.6" y="186.7" font-size="8.2" text-anchor="start" font-weight="normal" >MAP2K6 siRNA</text>
<text x="109.4" y="179.1" font-size="8" letter-spacing="0.1">U3A (STAT1<tspan font-size="6" dy="-2.8">-/-</tspan><tspan dy="2.8">)</tspan></text>
<line x1="109.4" y1="180.55" x2="163.3" y2="180.55" stroke="#000" stroke-width="1.0"/>
<text x="6.8" y="218.8" font-size="8.1" text-anchor="middle" transform="rotate(-90 6.8 218.8)">mRNA fold induction</text>
<text x="0" y="0" font-size="10.5" font-weight="bold" transform="translate(-0.2 174.1) scale(1.18 1)" style="stroke-width:0.45px">C</text>
<line x1="276" y1="176.5" x2="276" y2="261.7" stroke="#000" stroke-width="1.5"/>
<line x1="273.4" y1="261" x2="276" y2="261" stroke="#1a1a1a" stroke-width="1"/>
<text x="268.8" y="263.8" font-size="7.8" text-anchor="end" font-weight="normal" >0</text>
<line x1="273.4" y1="250.5" x2="276" y2="250.5" stroke="#1a1a1a" stroke-width="1"/>
<text x="268.8" y="253.3" font-size="7.8" text-anchor="end" font-weight="normal" >1</text>
<line x1="273.4" y1="240" x2="276" y2="240" stroke="#1a1a1a" stroke-width="1"/>
<text x="268.8" y="242.8" font-size="7.8" text-anchor="end" font-weight="normal" >2</text>
<line x1="273.4" y1="229.5" x2="276" y2="229.5" stroke="#1a1a1a" stroke-width="1"/>
<text x="268.8" y="232.3" font-size="7.8" text-anchor="end" font-weight="normal" >3</text>
<line x1="273.4" y1="219" x2="276" y2="219" stroke="#1a1a1a" stroke-width="1"/>
<text x="268.8" y="221.8" font-size="7.8" text-anchor="end" font-weight="normal" >4</text>
<line x1="273.4" y1="208.5" x2="276" y2="208.5" stroke="#1a1a1a" stroke-width="1"/>
<text x="268.8" y="211.3" font-size="7.8" text-anchor="end" font-weight="normal" >5</text>
<line x1="273.4" y1="198" x2="276" y2="198" stroke="#1a1a1a" stroke-width="1"/>
<text x="268.8" y="200.8" font-size="7.8" text-anchor="end" font-weight="normal" >6</text>
<line x1="273.4" y1="187.5" x2="276" y2="187.5" stroke="#1a1a1a" stroke-width="1"/>
<text x="268.8" y="190.3" font-size="7.8" text-anchor="end" font-weight="normal" >7</text>
<line x1="273.4" y1="177" x2="276" y2="177" stroke="#1a1a1a" stroke-width="1"/>
<text x="268.8" y="179.8" font-size="7.8" text-anchor="end" font-weight="normal" >8</text>
<line x1="275.3" y1="261" x2="476.5" y2="261" stroke="#000" stroke-width="1.5"/>
<line x1="276" y1="261" x2="276" y2="263.4" stroke="#1a1a1a" stroke-width="1"/>
<line x1="289.33" y1="261" x2="289.33" y2="263.4" stroke="#1a1a1a" stroke-width="1"/>
<line x1="302.67" y1="261" x2="302.67" y2="263.4" stroke="#1a1a1a" stroke-width="1"/>
<line x1="316" y1="261" x2="316" y2="263.4" stroke="#1a1a1a" stroke-width="1"/>
<line x1="329.33" y1="261" x2="329.33" y2="263.4" stroke="#1a1a1a" stroke-width="1"/>
<line x1="342.67" y1="261" x2="342.67" y2="263.4" stroke="#1a1a1a" stroke-width="1"/>
<line x1="356" y1="261" x2="356" y2="263.4" stroke="#1a1a1a" stroke-width="1"/>
<line x1="369.33" y1="261" x2="369.33" y2="263.4" stroke="#1a1a1a" stroke-width="1"/>
<line x1="382.67" y1="261" x2="382.67" y2="263.4" stroke="#1a1a1a" stroke-width="1"/>
<line x1="396" y1="261" x2="396" y2="263.4" stroke="#1a1a1a" stroke-width="1"/>
<line x1="409.33" y1="261" x2="409.33" y2="263.4" stroke="#1a1a1a" stroke-width="1"/>
<line x1="422.67" y1="261" x2="422.67" y2="263.4" stroke="#1a1a1a" stroke-width="1"/>
<line x1="436" y1="261" x2="436" y2="263.4" stroke="#1a1a1a" stroke-width="1"/>
<line x1="449.33" y1="261" x2="449.33" y2="263.4" stroke="#1a1a1a" stroke-width="1"/>
<line x1="462.67" y1="261" x2="462.67" y2="263.4" stroke="#1a1a1a" stroke-width="1"/>
<line x1="476" y1="261" x2="476" y2="263.4" stroke="#1a1a1a" stroke-width="1"/>
<rect x="278.55" y="250.5" width="3.4" height="10.5" fill="#1c1c1c"/>
<rect x="282.6" y="256.38" width="3.7" height="4.62" fill="#aaaaaa"/>
<rect x="291.88" y="250.5" width="3.4" height="10.5" fill="#1c1c1c"/>
<rect x="295.93" y="254.91" width="3.7" height="6.09" fill="#aaaaaa"/>
<rect x="305.22" y="250.5" width="3.4" height="10.5" fill="#1c1c1c"/>
<rect x="318.55" y="250.5" width="3.4" height="10.5" fill="#1c1c1c"/>
<rect x="322.6" y="254.18" width="3.7" height="6.83" fill="#aaaaaa"/>
<rect x="331.88" y="250.5" width="3.4" height="10.5" fill="#1c1c1c"/>
<rect x="335.93" y="255.85" width="3.7" height="5.14" fill="#aaaaaa"/>
<rect x="345.22" y="250.5" width="3.4" height="10.5" fill="#1c1c1c"/>
<rect x="349.27" y="256.38" width="3.7" height="4.62" fill="#aaaaaa"/>
<rect x="385.22" y="241.05" width="3.4" height="19.95" fill="#1c1c1c"/>
<rect x="389.27" y="258.17" width="3.7" height="2.83" fill="#aaaaaa"/>
<rect x="398.55" y="238.22" width="3.4" height="22.79" fill="#1c1c1c"/>
<rect x="402.6" y="258.17" width="3.7" height="2.83" fill="#aaaaaa"/>
<rect x="411.88" y="241.47" width="3.4" height="19.53" fill="#1c1c1c"/>
<rect x="425.22" y="220.16" width="3.4" height="40.84" fill="#1c1c1c"/>
<rect x="429.27" y="254.18" width="3.7" height="6.83" fill="#aaaaaa"/>
<rect x="438.55" y="176.58" width="3.4" height="84.42" fill="#1c1c1c"/>
<rect x="442.6" y="247.03" width="3.7" height="13.96" fill="#aaaaaa"/>
<rect x="451.88" y="217.53" width="3.4" height="43.47" fill="#1c1c1c"/>
<rect x="455.93" y="250.19" width="3.7" height="10.81" fill="#aaaaaa"/>
<rect x="465.22" y="250.92" width="3.4" height="10.08" fill="#1c1c1c"/>
<rect x="469.27" y="248.72" width="3.7" height="12.29" fill="#aaaaaa"/>
<text x="284.17" y="271.8" font-size="8" text-anchor="end" transform="rotate(-45 284.17 271.8)">IRF7</text>
<text x="297.5" y="271.8" font-size="8" text-anchor="end" transform="rotate(-45 297.5 271.8)">MAP2K6</text>
<text x="310.83" y="271.8" font-size="8" text-anchor="end" transform="rotate(-45 310.83 271.8)">STAT1</text>
<text x="324.17" y="271.8" font-size="8" text-anchor="end" transform="rotate(-45 324.17 271.8)">IP10</text>
<text x="337.5" y="271.8" font-size="8" text-anchor="end" transform="rotate(-45 337.5 271.8)">MIG</text>
<text x="350.83" y="271.8" font-size="8" text-anchor="end" transform="rotate(-45 350.83 271.8)">TRAIL</text>
<text x="364.17" y="271.8" font-size="8" text-anchor="end" transform="rotate(-45 364.17 271.8)">Tat</text>
<text x="390.83" y="271.8" font-size="8" text-anchor="end" transform="rotate(-45 390.83 271.8)">IRF7</text>
<text x="404.17" y="271.8" font-size="8" text-anchor="end" transform="rotate(-45 404.17 271.8)">MAP2K6</text>
<text x="417.5" y="271.8" font-size="8" text-anchor="end" transform="rotate(-45 417.5 271.8)">STAT1</text>
<text x="430.83" y="271.8" font-size="8" text-anchor="end" transform="rotate(-45 430.83 271.8)">IP10</text>
<text x="444.17" y="271.8" font-size="8" text-anchor="end" transform="rotate(-45 444.17 271.8)">MIG</text>
<text x="457.5" y="271.8" font-size="8" text-anchor="end" transform="rotate(-45 457.5 271.8)">TRAIL</text>
<text x="470.83" y="271.8" font-size="8" text-anchor="end" transform="rotate(-45 470.83 271.8)">Tat</text>
<line x1="275" y1="296.1" x2="370.3" y2="296.1" stroke="#333" stroke-width="1.4"/>
<text x="0" y="0" font-size="8" text-anchor="middle" transform="translate(323 307.4) scale(1.0 1)">Ad-tTA</text>
<line x1="379.2" y1="296.1" x2="475.7" y2="296.1" stroke="#333" stroke-width="1.4"/>
<text x="0" y="0" font-size="8" text-anchor="middle" transform="translate(430.4 307.4) scale(1.0 1)">Ad-Tat</text>
<rect x="282.1" y="174.7" width="4" height="4" fill="#1c1c1c"/>
<text x="288.1" y="179.6" font-size="8.2" text-anchor="start" font-weight="normal" >ns siRNA</text>
<rect x="282.1" y="185" width="4" height="4" fill="#aaaaaa"/>
<text x="288.1" y="189.9" font-size="8.2" text-anchor="start" font-weight="normal" >MAP2K6 siRNA</text>
<text x="354.4" y="179.4" font-size="8" letter-spacing="0.1">U3A-R&#160; (STAT1+/+ )</text>
<line x1="354.4" y1="180.85" x2="428" y2="180.85" stroke="#000" stroke-width="1.0"/>
<text x="259" y="219.7" font-size="8.1" text-anchor="middle" transform="rotate(-90 259 219.7)">mRNA fold induction</text>
<text x="0" y="0" font-size="10.5" font-weight="bold" transform="translate(252.3 174.1) scale(1.18 1)" style="stroke-width:0.45px">D</text>
<line x1="24.8" y1="323.06" x2="24.8" y2="408.9" stroke="#000" stroke-width="1.5"/>
<line x1="22.2" y1="408.2" x2="24.8" y2="408.2" stroke="#1a1a1a" stroke-width="1"/>
<text x="17.9" y="411" font-size="7.8" text-anchor="end" font-weight="normal" >0</text>
<line x1="22.2" y1="397.62" x2="24.8" y2="397.62" stroke="#1a1a1a" stroke-width="1"/>
<text x="17.9" y="400.42" font-size="7.8" text-anchor="end" font-weight="normal" >1</text>
<line x1="22.2" y1="387.04" x2="24.8" y2="387.04" stroke="#1a1a1a" stroke-width="1"/>
<text x="17.9" y="389.84" font-size="7.8" text-anchor="end" font-weight="normal" >2</text>
<line x1="22.2" y1="376.46" x2="24.8" y2="376.46" stroke="#1a1a1a" stroke-width="1"/>
<text x="17.9" y="379.26" font-size="7.8" text-anchor="end" font-weight="normal" >3</text>
<line x1="22.2" y1="365.88" x2="24.8" y2="365.88" stroke="#1a1a1a" stroke-width="1"/>
<text x="17.9" y="368.68" font-size="7.8" text-anchor="end" font-weight="normal" >4</text>
<line x1="22.2" y1="355.3" x2="24.8" y2="355.3" stroke="#1a1a1a" stroke-width="1"/>
<text x="17.9" y="358.1" font-size="7.8" text-anchor="end" font-weight="normal" >5</text>
<line x1="22.2" y1="344.72" x2="24.8" y2="344.72" stroke="#1a1a1a" stroke-width="1"/>
<text x="17.9" y="347.52" font-size="7.8" text-anchor="end" font-weight="normal" >6</text>
<line x1="22.2" y1="334.14" x2="24.8" y2="334.14" stroke="#1a1a1a" stroke-width="1"/>
<text x="17.9" y="336.94" font-size="7.8" text-anchor="end" font-weight="normal" >7</text>
<line x1="22.2" y1="323.56" x2="24.8" y2="323.56" stroke="#1a1a1a" stroke-width="1"/>
<text x="17.9" y="326.36" font-size="7.8" text-anchor="end" font-weight="normal" >8</text>
<line x1="24.1" y1="408.2" x2="237.8" y2="408.2" stroke="#000" stroke-width="1.5"/>
<line x1="24.8" y1="408.2" x2="24.8" y2="410.6" stroke="#1a1a1a" stroke-width="1"/>
<line x1="37.3" y1="408.2" x2="37.3" y2="410.6" stroke="#1a1a1a" stroke-width="1"/>
<line x1="49.8" y1="408.2" x2="49.8" y2="410.6" stroke="#1a1a1a" stroke-width="1"/>
<line x1="62.3" y1="408.2" x2="62.3" y2="410.6" stroke="#1a1a1a" stroke-width="1"/>
<line x1="74.8" y1="408.2" x2="74.8" y2="410.6" stroke="#1a1a1a" stroke-width="1"/>
<line x1="87.3" y1="408.2" x2="87.3" y2="410.6" stroke="#1a1a1a" stroke-width="1"/>
<line x1="99.8" y1="408.2" x2="99.8" y2="410.6" stroke="#1a1a1a" stroke-width="1"/>
<line x1="112.3" y1="408.2" x2="112.3" y2="410.6" stroke="#1a1a1a" stroke-width="1"/>
<line x1="124.8" y1="408.2" x2="124.8" y2="410.6" stroke="#1a1a1a" stroke-width="1"/>
<line x1="137.3" y1="408.2" x2="137.3" y2="410.6" stroke="#1a1a1a" stroke-width="1"/>
<line x1="149.8" y1="408.2" x2="149.8" y2="410.6" stroke="#1a1a1a" stroke-width="1"/>
<line x1="162.3" y1="408.2" x2="162.3" y2="410.6" stroke="#1a1a1a" stroke-width="1"/>
<line x1="174.8" y1="408.2" x2="174.8" y2="410.6" stroke="#1a1a1a" stroke-width="1"/>
<line x1="187.3" y1="408.2" x2="187.3" y2="410.6" stroke="#1a1a1a" stroke-width="1"/>
<line x1="199.8" y1="408.2" x2="199.8" y2="410.6" stroke="#1a1a1a" stroke-width="1"/>
<line x1="212.3" y1="408.2" x2="212.3" y2="410.6" stroke="#1a1a1a" stroke-width="1"/>
<line x1="224.8" y1="408.2" x2="224.8" y2="410.6" stroke="#1a1a1a" stroke-width="1"/>
<line x1="237.3" y1="408.2" x2="237.3" y2="410.6" stroke="#1a1a1a" stroke-width="1"/>
<rect x="27.75" y="397.62" width="3.3" height="10.58" fill="#1c1c1c"/>
<rect x="31.4" y="402.17" width="3.8" height="6.03" fill="#aaaaaa"/>
<rect x="40.25" y="397.62" width="3.3" height="10.58" fill="#1c1c1c"/>
<rect x="43.9" y="403.44" width="3.8" height="4.76" fill="#aaaaaa"/>
<rect x="52.75" y="397.62" width="3.3" height="10.58" fill="#1c1c1c"/>
<rect x="56.4" y="402.17" width="3.8" height="6.03" fill="#aaaaaa"/>
<rect x="65.25" y="397.62" width="3.3" height="10.58" fill="#1c1c1c"/>
<rect x="68.9" y="404.29" width="3.8" height="3.91" fill="#aaaaaa"/>
<rect x="77.75" y="397.62" width="3.3" height="10.58" fill="#1c1c1c"/>
<rect x="81.4" y="402.17" width="3.8" height="6.03" fill="#aaaaaa"/>
<rect x="90.25" y="397.62" width="3.3" height="10.58" fill="#1c1c1c"/>
<rect x="102.75" y="397.62" width="3.3" height="10.58" fill="#1c1c1c"/>
<rect x="106.4" y="404.29" width="3.8" height="3.91" fill="#aaaaaa"/>
<rect x="140.25" y="384.18" width="3.3" height="24.02" fill="#1c1c1c"/>
<rect x="143.9" y="402.06" width="3.8" height="6.14" fill="#aaaaaa"/>
<rect x="152.75" y="384.18" width="3.3" height="24.02" fill="#1c1c1c"/>
<rect x="156.4" y="399.95" width="3.8" height="8.25" fill="#aaaaaa"/>
<rect x="165.25" y="398.47" width="3.3" height="9.73" fill="#1c1c1c"/>
<rect x="168.9" y="403.44" width="3.8" height="4.76" fill="#aaaaaa"/>
<rect x="177.75" y="339.96" width="3.3" height="68.24" fill="#1c1c1c"/>
<rect x="181.4" y="400.79" width="3.8" height="7.41" fill="#aaaaaa"/>
<rect x="190.25" y="344.3" width="3.3" height="63.9" fill="#1c1c1c"/>
<rect x="193.9" y="399.31" width="3.8" height="8.89" fill="#aaaaaa"/>
<rect x="202.75" y="385.14" width="3.3" height="23.06" fill="#1c1c1c"/>
<rect x="206.4" y="406.61" width="3.8" height="1.59" fill="#aaaaaa"/>
<rect x="215.25" y="372.97" width="3.3" height="35.23" fill="#1c1c1c"/>
<rect x="218.9" y="407.14" width="3.8" height="1.06" fill="#aaaaaa"/>
<rect x="227.75" y="397.73" width="3.3" height="10.47" fill="#1c1c1c"/>
<rect x="231.4" y="398.78" width="3.8" height="9.42" fill="#aaaaaa"/>
<text x="32.55" y="419" font-size="8" text-anchor="end" transform="rotate(-45 32.55 419)">IRF7</text>
<text x="45.05" y="419" font-size="8" text-anchor="end" transform="rotate(-45 45.05 419)">MAP2K6</text>
<text x="57.55" y="419" font-size="8" text-anchor="end" transform="rotate(-45 57.55 419)">STAT1</text>
<text x="70.05" y="419" font-size="8" text-anchor="end" transform="rotate(-45 70.05 419)">IP10</text>
<text x="82.55" y="419" font-size="8" text-anchor="end" transform="rotate(-45 82.55 419)">MCP2</text>
<text x="95.05" y="419" font-size="8" text-anchor="end" transform="rotate(-45 95.05 419)">MIG</text>
<text x="107.55" y="419" font-size="8" text-anchor="end" transform="rotate(-45 107.55 419)">TRAIL</text>
<text x="120.05" y="419" font-size="8" text-anchor="end" transform="rotate(-45 120.05 419)">Tat</text>
<text x="145.05" y="419" font-size="8" text-anchor="end" transform="rotate(-45 145.05 419)">IRF7</text>
<text x="157.55" y="419" font-size="8" text-anchor="end" transform="rotate(-45 157.55 419)">MAP2K6</text>
<text x="170.05" y="419" font-size="8" text-anchor="end" transform="rotate(-45 170.05 419)">STAT1</text>
<text x="182.55" y="419" font-size="8" text-anchor="end" transform="rotate(-45 182.55 419)">IP10</text>
<text x="195.05" y="419" font-size="8" text-anchor="end" transform="rotate(-45 195.05 419)">MCP2</text>
<text x="207.55" y="419" font-size="8" text-anchor="end" transform="rotate(-45 207.55 419)">MIG</text>
<text x="220.05" y="419" font-size="8" text-anchor="end" transform="rotate(-45 220.05 419)">TRAIL</text>
<text x="232.55" y="419" font-size="8" text-anchor="end" transform="rotate(-45 232.55 419)">Tat</text>
<line x1="25" y1="442.7" x2="124.2" y2="442.7" stroke="#333" stroke-width="1.4"/>
<text x="0" y="0" font-size="8" text-anchor="middle" transform="translate(73.7 453.3) scale(1.0 1)">Ad-tTA</text>
<line x1="134.2" y1="442.7" x2="235.8" y2="442.7" stroke="#333" stroke-width="1.4"/>
<text x="0" y="0" font-size="8" text-anchor="middle" transform="translate(185.7 453.6) scale(1.0 1)">Ad-Tat</text>
<rect x="28.9" y="324.2" width="4" height="4" fill="#1c1c1c"/>
<text x="34.7" y="329.1" font-size="8.2" text-anchor="start" font-weight="normal" >untreated</text>
<rect x="28.9" y="335.1" width="4" height="4" fill="#aaaaaa"/>
<text x="34.7" y="340" font-size="8.2" text-anchor="start" font-weight="normal" >MAP2K6 siRNA</text>
<text x="109.4" y="328.3" font-size="8" letter-spacing="0.1">U6A&#160; (STAT2<tspan font-size="6" dy="-2.8">-/-</tspan><tspan dy="2.8">)</tspan></text>
<line x1="109.4" y1="329.75" x2="166.3" y2="329.75" stroke="#000" stroke-width="1.0"/>
<text x="7.2" y="366.3" font-size="8.1" text-anchor="middle" transform="rotate(-90 7.2 366.3)">mmRNA fold induction</text>
<text x="0" y="0" font-size="10.8" font-weight="bold" transform="translate(0.6 321.5) scale(1.18 1)" style="stroke-width:0.45px">E</text>
</g>
</svg>
</body></html>
